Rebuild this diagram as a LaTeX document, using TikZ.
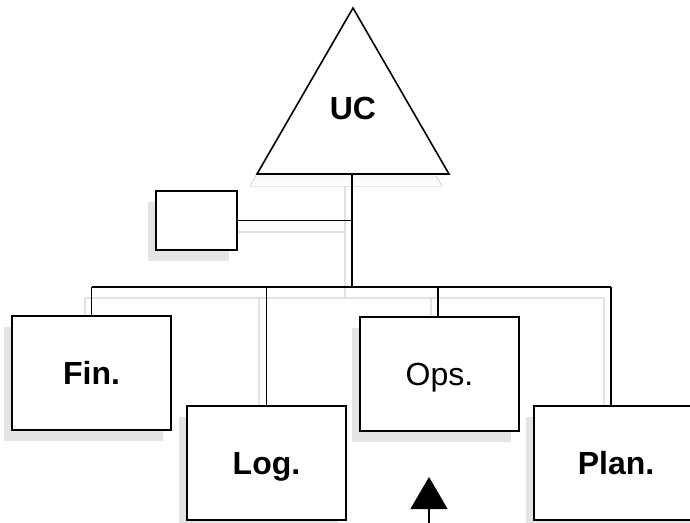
\documentclass[tikz,border=0pt]{standalone}
\usepackage{fontspec}
\setmainfont{Liberation Sans}
\usepackage{tikz}
\usetikzlibrary{arrows.meta,shadows}

\definecolor{shade}{RGB}{228,229,227}
\definecolor{wireshade}{RGB}{226,226,226}

\tikzset{
    unit/.style={draw=black, fill=white, line width=1.6pt, inner sep=0pt,
        minimum width=159pt, minimum height=114pt,
        text height=23pt, text depth=0pt,
        font=\fontsize{32}{36}\selectfont\bfseries,
        drop shadow={shadow xshift=-8pt, shadow yshift=-11pt, fill=shade, opacity=1, draw=none}},
    link/.style={draw=black, line width=1.6pt},
    linkshade/.style={draw=wireshade, line width=1.6pt}
}

\begin{document}
\begin{tikzpicture}[x=1pt, y=-1pt]
    \useasboundingbox (0,0) rectangle (690,522);
    \clip (0,0) rectangle (690,522); % Plan. runs off the right edge

    % junction points of the wiring
    \coordinate (top) at (352,174);
    \coordinate (hub) at (352,221);
    \coordinate (bus) at (352,287);
    \coordinate (planlink) at (611,287);

    % shadows of the wiring
    \begin{scope}[shift={(-7,11)}]
        \draw[linkshade] (352,174) -- (352,287);
        \draw[linkshade] (237,221) -- (352,221);
        \draw[linkshade] (92,287) -- (611,287);
        \foreach \x/\y in {92/317, 266/406, 438/317, 611/406}{
            \draw[linkshade] (\x,287) -- (\x,\y);
        }
    \end{scope}

    % the top unit
    \fill[shade] (346,19) -- (442,186) -- (250,186) -- cycle;
    \filldraw[fill=white, draw=black, line width=1.6pt] (353,8) -- (449,174) -- (257,174) -- cycle;
    \node[font=\fontsize{32}{36}\selectfont\bfseries] (uc) at (353,108) {UC};

    % staff box and the four branches
    \node[unit, minimum width=81pt, minimum height=59pt] (aux) at (196.5,220.5) {};
    \node[unit] (fin) at (91.5,373) {Fin.};
    \node[unit] (log) at (266.5,463) {Log.};
    \node[unit, font=\fontsize{32}{36}\selectfont] (ops) at (439.5,374) {Ops.};
    \node[unit, minimum width=164pt] (plan) at (616,463) {Plan.};

    % wiring
    \draw[link] (top) -- (bus);
    \draw[link] (aux.east) -- (aux.east -| hub);
    \draw[link] (fin.north |- bus) -- (planlink);
    \draw[link] (fin.north |- bus) -- (fin.north);
    \draw[link] (log.north |- bus) -- (log.north);
    \draw[link] (438,287) -- (438,317);
    \draw[link] (planlink) -- (planlink |- plan.north);

    % incoming arrow
    \coordinate (src) at (429,524);
    \coordinate (tip) at (429,477);
    \draw[line width=1.2pt, -{Triangle[length=32pt, width=37pt]}] (src) -- (tip);
\end{tikzpicture}
\end{document}
